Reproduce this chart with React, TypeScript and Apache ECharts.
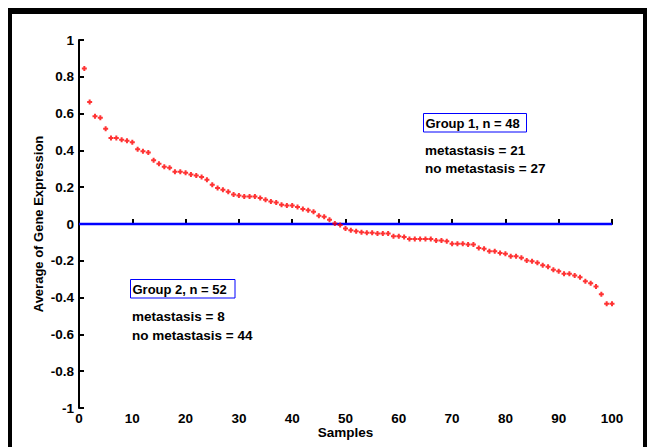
import React, { useEffect, useRef } from "react";
import * as echarts from "echarts";

// Average gene expression per sample (sorted), samples 1..100
const expressionValues: number[] = [
  0.845, 0.663, 0.585, 0.578, 0.518, 0.467, 0.467, 0.458, 0.453, 0.444,
  0.406, 0.396, 0.388, 0.346, 0.328, 0.311, 0.306, 0.284, 0.284, 0.279,
  0.269, 0.264, 0.255, 0.240, 0.213, 0.195, 0.186, 0.175, 0.161, 0.155,
  0.150, 0.150, 0.150, 0.141, 0.132, 0.122, 0.117, 0.104, 0.101, 0.101,
  0.092, 0.081, 0.075, 0.066, 0.045, 0.039, 0.023, 0.003, -0.006, -0.025,
  -0.034, -0.039, -0.045, -0.048, -0.048, -0.052, -0.052, -0.052, -0.066, -0.066,
  -0.070, -0.081, -0.081, -0.081, -0.081, -0.081, -0.090, -0.090, -0.094, -0.107,
  -0.107, -0.107, -0.111, -0.111, -0.130, -0.135, -0.148, -0.148, -0.158, -0.162,
  -0.175, -0.175, -0.184, -0.199, -0.202, -0.211, -0.224, -0.233, -0.248, -0.257,
  -0.271, -0.271, -0.280, -0.290, -0.311, -0.322, -0.340, -0.382, -0.433, -0.433,
];

const zeroLine: [number, number][] = [
  [0, 0],
  [100, 0],
];

const group1Title = "Group 1, n = 48";
const group1Lines = ["metastasis = 21", "no metastasis = 27"];
const group2Title = "Group 2, n = 52";
const group2Lines = ["metastasis = 8", "no metastasis = 44"];

const FONT = "Liberation Sans, Arial, Helvetica, sans-serif";

export default function App() {
  const ref = useRef<HTMLDivElement>(null);

  useEffect(() => {
    if (!ref.current) return;
    const chart = echarts.init(ref.current, undefined, { renderer: "svg" });

    const points = expressionValues.map((v, i) => [i + 1, v]);

    const boldText = (text: string, x: number, y: number, size = 13.5) => ({
      type: "text",
      x,
      y,
      z: 10,
      style: {
        text,
        fill: "#000",
        font: `bold ${size}px ${FONT}`,
        verticalAlign: "middle",
        align: "left",
      },
    });

    chart.setOption({
      animation: false,
      backgroundColor: "#fff",
      textStyle: { fontFamily: FONT },
      grid: {
        left: 79,
        right: 35,
        top: 40,
        bottom: 39,
        containLabel: false,
        outerBoundsMode: "none",
      },
      xAxis: {
        type: "value",
        min: 0,
        max: 100,
        interval: 10,
        name: "Samples",
        nameLocation: "middle",
        nameGap: 17,
        nameMoveOverlap: false,
        nameTextStyle: { color: "#000", fontWeight: "bold", fontSize: 13.5, fontFamily: FONT },
        axisLine: { show: true, lineStyle: { color: "#000", width: 2 } },
        axisTick: { show: true, inside: true, length: 5, lineStyle: { color: "#000", width: 2 } },
        axisLabel: { color: "#000", fontWeight: "bold", fontSize: 13.5, margin: 3, fontFamily: FONT },
        splitLine: { show: false },
      },
      yAxis: {
        type: "value",
        min: -1,
        max: 1,
        interval: 0.2,
        name: "Average of Gene Expression",
        nameLocation: "middle",
        nameRotate: 90,
        nameGap: 34,
        nameMoveOverlap: false,
        nameTextStyle: { color: "#000", fontWeight: "bold", fontSize: 13, fontFamily: FONT },
        axisLine: { show: true, lineStyle: { color: "#000", width: 2 } },
        axisTick: { show: true, inside: true, length: 5, lineStyle: { color: "#000", width: 2 } },
        axisLabel: {
          color: "#000",
          fontWeight: "bold",
          fontSize: 13.5,
          margin: 5,
          fontFamily: FONT,
          formatter: (v: number) => String(Math.round(v * 10) / 10),
        },
        splitLine: { show: false },
      },
      series: [
        {
          type: "line",
          data: zeroLine,
          symbol: "none",
          lineStyle: { color: "#0000ff", width: 2.5 },
          silent: true,
          z: 2,
        },
        {
          type: "scatter",
          data: points,
          symbol: "path://M1.5,0h2v1.5h1.5v2h-1.5v1.5h-2v-1.5h-1.5v-2h1.5z",
          symbolSize: 5,
          itemStyle: { color: "#ff0000" },
          z: 3,
        },
      ],
      graphic: [
        // outer black frame
        { type: "rect", shape: { x: 8, y: 8, width: 639, height: 6 }, style: { fill: "#000" }, z: 20 },
        { type: "rect", shape: { x: 8, y: 8, width: 4, height: 439 }, style: { fill: "#000" }, z: 20 },
        { type: "rect", shape: { x: 643, y: 8, width: 4, height: 439 }, style: { fill: "#000" }, z: 20 },
        // Group 1 annotation
        {
          type: "rect",
          shape: { x: 423.5, y: 113.5, width: 103, height: 18.5 },
          style: { fill: "#fff", stroke: "#0000ff", lineWidth: 1 },
          z: 9,
        },
        boldText(group1Title, 425.5, 123, 13),
        boldText(group1Lines[0], 425, 150),
        boldText(group1Lines[1], 425, 168.5),
        // Group 2 annotation
        {
          type: "rect",
          shape: { x: 130.5, y: 279.5, width: 104.5, height: 18.5 },
          style: { fill: "#fff", stroke: "#0000ff", lineWidth: 1 },
          z: 9,
        },
        boldText(group2Title, 132.5, 289, 13),
        boldText(group2Lines[0], 132, 316.5),
        boldText(group2Lines[1], 132, 335),
      ],
    });

    return () => chart.dispose();
  }, []);

  return (
    <div
      style={{ position: "fixed", left: 0, top: 0, width: 647, height: 447, background: "#fff" }}
    >
      <div ref={ref} style={{ width: 647, height: 447 }} />
    </div>
  );
}
